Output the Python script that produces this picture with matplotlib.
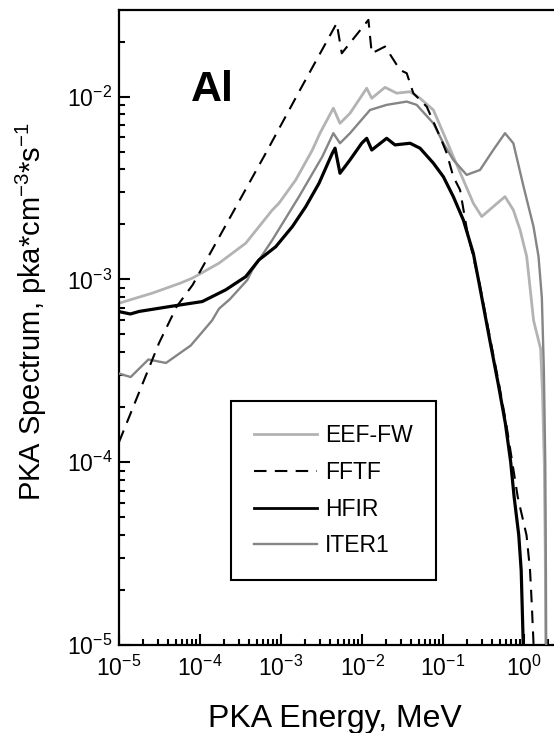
import numpy as np
import matplotlib
matplotlib.use("Agg")
import matplotlib.pyplot as plt
from matplotlib.ticker import LogLocator, NullFormatter
from matplotlib.lines import Line2D

plt.rcParams.update({
    "font.family": ["Liberation Sans", "DejaVu Sans"],
    "mathtext.fontset": "custom",
    "mathtext.rm": "Liberation Sans",
    "mathtext.it": "Liberation Sans:italic",
    "mathtext.bf": "Liberation Sans:bold",
    "axes.unicode_minus": False,
})

# ---- data (log10 of PKA energy in MeV, log10 of PKA spectrum) ----
eef_log_e = [-5.0, -4.589, -4.247, -4.095, -3.765, -3.436, -3.107, -3.025, -2.819, -2.613,
             -2.519, -2.354, -2.272, -2.148, -1.942, -1.880, -1.716, -1.572, -1.407, -1.284,
             -1.119, -0.996, -0.873, -0.749, -0.626, -0.522, -0.380, -0.235, -0.132, -0.049,
             0.033, 0.118, 0.205, 0.227, 0.250, 0.262, 0.270]
eef_log_s = [-3.130, -3.075, -3.021, -2.993, -2.911, -2.802, -2.620, -2.583, -2.456, -2.292,
             -2.200, -2.063, -2.146, -2.091, -1.954, -2.009, -1.949, -1.981, -1.973, -2.009,
             -2.073, -2.200, -2.328, -2.456, -2.583, -2.656, -2.602, -2.547, -2.620, -2.729,
             -2.875, -3.225, -3.380, -3.612, -4.000, -4.500, -5.200]

fftf_log_e = [-5.0, -4.506, -4.287, -4.091, -3.189, -2.765, -2.312, -2.250, -1.921, -1.880,
              -1.716, -1.531, -1.448, -1.367, -1.201, -1.037, -0.954, -0.873, -0.790, -0.700,
              -0.550, -0.420, -0.310, -0.220, -0.145, -0.078, 0.031, 0.074, 0.096, 0.118]
fftf_log_s = [-3.890, -3.348, -3.148, -3.030, -2.310, -1.963, -1.598, -1.763, -1.580, -1.763,
              -1.726, -1.854, -1.872, -1.981, -2.055, -2.219, -2.310, -2.438, -2.510, -2.740,
              -3.020, -3.320, -3.570, -3.790, -4.000, -4.190, -4.400, -4.590, -4.780, -5.000]

hfir_log_e = [-5.0, -4.860, -4.750, -4.383, -3.972, -3.683, -3.436, -3.272, -3.065, -2.860,
              -2.695, -2.531, -2.367, -2.333, -2.272, -2.148, -2.004, -1.942, -1.880, -1.696,
              -1.593, -1.407, -1.284, -1.119, -0.996, -0.873, -0.749, -0.626, -0.558, -0.427,
              -0.318, -0.231, -0.165, -0.122, -0.065, -0.035, -0.012, 0.000]
hfir_log_s = [-3.176, -3.189, -3.175, -3.149, -3.121, -3.057, -2.985, -2.893, -2.821, -2.711,
              -2.602, -2.474, -2.310, -2.282, -2.419, -2.346, -2.255, -2.228, -2.292, -2.228,
              -2.264, -2.255, -2.282, -2.364, -2.438, -2.547, -2.675, -2.857, -3.013, -3.322,
              -3.573, -3.786, -3.998, -4.191, -4.399, -4.593, -4.960, -5.200]

iter_log_e = [-5.0, -4.856, -4.637, -4.420, -4.113, -3.852, -3.765, -3.633, -3.416, -3.354,
              -3.107, -2.778, -2.490, -2.354, -2.272, -2.148, -1.901, -1.696, -1.448, -1.325,
              -1.119, -0.996, -0.873, -0.708, -0.543, -0.380, -0.235, -0.132, -0.006, 0.117,
              0.179, 0.220, 0.245, 0.262, 0.270, 0.275]
iter_log_s = [-3.515, -3.534, -3.438, -3.457, -3.361, -3.225, -3.160, -3.109, -3.003, -2.948,
              -2.784, -2.547, -2.328, -2.200, -2.255, -2.200, -2.073, -2.045, -2.027, -2.045,
              -2.146, -2.255, -2.346, -2.428, -2.401, -2.292, -2.200, -2.255, -2.492, -2.711,
              -2.875, -3.100, -3.500, -4.000, -4.600, -5.200]

labels = ["EEF-FW", "FFTF", "HFIR", "ITER1"]

fig = plt.figure(figsize=(5.54, 7.33), dpi=100)
W, H = 554, 733
ax = fig.add_axes([119 / W, 1 - 645 / H, 1 - 119 / W, (645 - 10) / H])

c_eef = "#b3b3b3"
c_iter = "#858585"
ax.plot(np.power(10.0, eef_log_e), np.power(10.0, eef_log_s), color=c_eef, lw=2.0, zorder=2)
ax.plot(np.power(10.0, iter_log_e), np.power(10.0, iter_log_s), color=c_iter, lw=1.7, zorder=3)
ax.plot(np.power(10.0, hfir_log_e), np.power(10.0, hfir_log_s), color="black", lw=2.3, zorder=4)
ax.plot(np.power(10.0, fftf_log_e), np.power(10.0, fftf_log_s), color="black", lw=1.5,
        dashes=(6, 4), zorder=5)

ax.set_xscale("log")
ax.set_yscale("log")
ax.set_xlim(1e-5, 10 ** 0.37)
ax.set_ylim(1e-5, 10 ** -1.526)

ax.xaxis.set_major_locator(LogLocator(base=10, numticks=20))
ax.xaxis.set_minor_locator(LogLocator(base=10, subs=np.arange(2, 10), numticks=40))
ax.yaxis.set_major_locator(LogLocator(base=10, numticks=20))
ax.yaxis.set_minor_locator(LogLocator(base=10, subs=np.arange(2, 10), numticks=40))
ax.xaxis.set_minor_formatter(NullFormatter())
ax.yaxis.set_minor_formatter(NullFormatter())

ax.tick_params(which="both", direction="in", top=False, right=False, width=1.5, labelsize=16.5)
ax.tick_params(which="major", length=8)
ax.tick_params(which="minor", length=4)
ax.tick_params(axis="x", which="major", pad=8)
ax.tick_params(axis="y", which="major", pad=5)

for side in ["left", "bottom", "top"]:
    ax.spines[side].set_linewidth(1.6)
ax.spines["right"].set_visible(False)

ax.text(0.166, 0.857, "Al", transform=ax.transAxes, fontsize=31, fontweight="bold",
        ha="left", va="baseline")

fig.text(335 / W, 1 - 727 / H, "PKA Energy, MeV", fontsize=23, ha="center", va="baseline")
fig.text(31 / W, 1 - 312 / H, r"PKA Spectrum, pka*cm$^{\mathdefault{-3}}$*s$^{\mathdefault{-1}}$",
         fontsize=21, rotation=90, ha="center", va="center")

handles = [
    Line2D([], [], color=c_eef, lw=2.0),
    Line2D([], [], color="black", lw=1.5, dashes=(6, 4)),
    Line2D([], [], color="black", lw=2.0),
    Line2D([], [], color=c_iter, lw=1.7),
]
leg = ax.legend(handles, labels, loc="upper left", bbox_to_anchor=(0.2575, 0.384),
                borderaxespad=0, fancybox=False, framealpha=1, edgecolor="black",
                fontsize=16.5, handlelength=2.75, handletextpad=0.35, labelspacing=0.6,
                borderpad=1.0)
leg.get_frame().set_linewidth(1.5)

fig.savefig("out.png", dpi=100)
